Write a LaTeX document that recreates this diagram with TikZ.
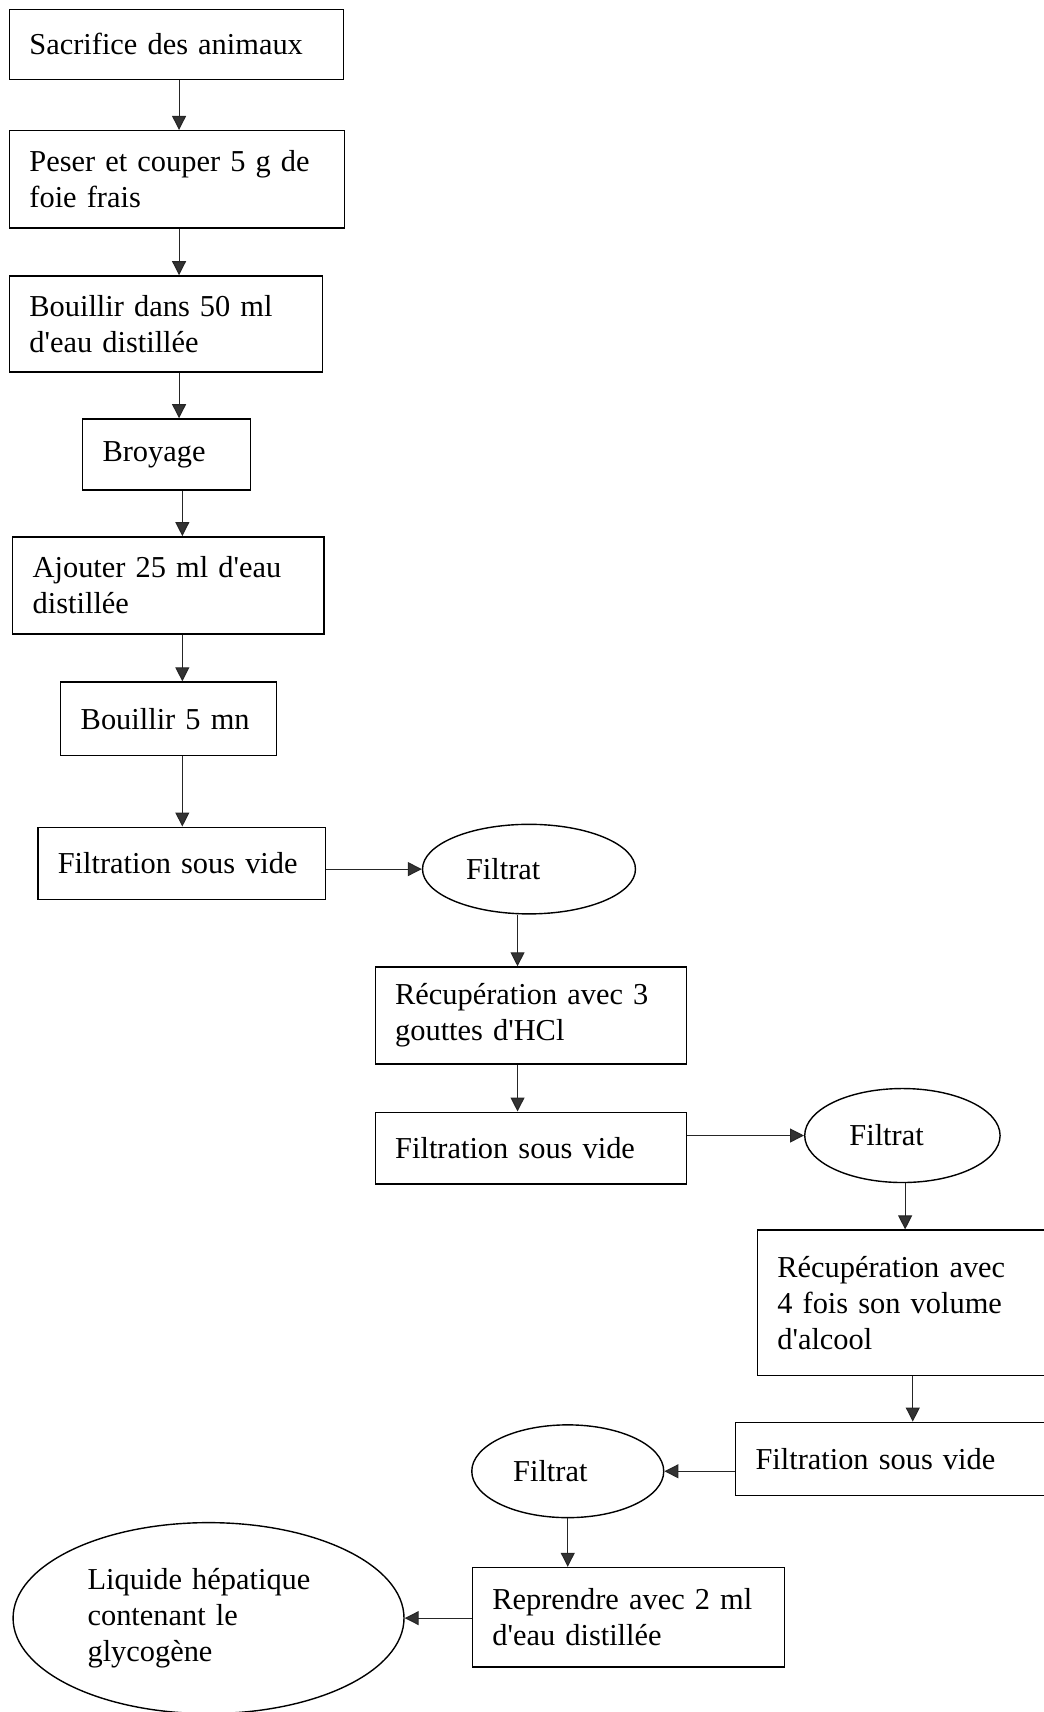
\documentclass[tikz,border=0pt]{standalone}
\usepackage{fontspec}
\setmainfont{Liberation Serif}[Ligatures=TeXOff]
\usepackage{tikz}
\usetikzlibrary{
	arrows.meta,									% 箭头样式
	shapes.geometric,								% 椭圆
}

\tikzset{
	etape/.style={draw, line width=0.7pt, anchor=north west, align=left,
		inner xsep=10pt, inner ysep=3pt, font=\fontsize{15.2}{18}\selectfont},
	filtrat/.style={draw, ellipse, line width=0.7pt, align=left, inner sep=2pt,
		font=\fontsize{15.2}{18}\selectfont},
	fleche/.style={line width=0.55pt, draw=black!85,
		-{Triangle[length=7pt,width=7pt,fill=black!80]}},
}

\begin{document}
\begin{tikzpicture}[x=0.546pt, y=-0.546pt]
		\useasboundingbox (0,0) rectangle (956,1568);
		% colonne de gauche
		\node[etape, text width=147pt, minimum height=35pt] (b1) at (8,8) {Sacrifice des animaux};
		\node[etape, text width=147.6pt, minimum height=48.6pt] (b2) at (8,119) {Peser et couper 5 g de\\foie frais};
		\node[etape, text width=136.7pt, minimum height=48pt] (b3) at (8,252) {Bouillir dans 50 ml\\d'eau distillée};
		\node[etape, text width=64pt, minimum height=35.5pt] (b4) at (75,383) {Broyage};
		\node[etape, text width=135.6pt, minimum height=48.6pt] (b5) at (11,491) {Ajouter 25 ml d'eau\\distillée};
		\node[etape, text width=88pt, minimum height=36.6pt] (b6) at (55,624) {Bouillir 5 mn};
		\node[etape, text width=124pt, minimum height=36pt] (b7) at (34,757) {Filtration sous vide};
		% premier filtrat
		\node[filtrat, text width=63pt, minimum width=106.5pt, minimum height=44.8pt] (f1) at (484.5,796) {Filtrat};
		\node[etape, text width=135.6pt, minimum height=48.6pt] (b9) at (343,885) {Récupération avec 3\\gouttes d'HCl};
		\node[etape, text width=135.6pt, minimum height=36pt] (b10) at (343,1018) {Filtration sous vide};
		% second filtrat
		\node[filtrat, text width=53pt, minimum width=97.7pt, minimum height=47pt] (f2) at (826.5,1040) {Filtrat};
		\node[etape, text width=123.6pt, minimum height=72.6pt] (b12) at (693,1126) {Récupération avec\\4 fois son volume\\d'alcool};
		\node[etape, text width=134.5pt, minimum height=36.6pt] (b13) at (673,1302) {Filtration sous vide};
		% troisieme filtrat
		\node[filtrat, text width=54.6pt, minimum width=96pt, minimum height=46.4pt] (f3) at (520,1347.5) {Filtrat};
		\node[etape, text width=136pt, minimum height=49.7pt] (b15) at (432,1435) {Reprendre avec 2 ml\\d'eau distillée};
		\node[filtrat, text width=121pt, minimum width=195.5pt, minimum height=95.5pt] (liq) at (191,1482) {Liquide hépatique\\contenant le\\glycogène};

		\coordinate (c1) at (164,0);
		\coordinate (c2) at (167,0);
		\coordinate (c3) at (474,0);
		\coordinate (c4) at (829,0);
		\coordinate (c5) at (836,0);

		\draw[fleche] (b1.south -| c1) -- (b2.north -| c1);
		\draw[fleche] (b2.south -| c1) -- (b3.north -| c1);
		\draw[fleche] (b3.south -| c1) -- (b4.north -| c1);
		\draw[fleche] (b4.south -| c2) -- (b5.north -| c2);
		\draw[fleche] (b5.south -| c2) -- (b6.north -| c2);
		\draw[fleche] (b6.south -| c2) -- (b7.north -| c2);
		\draw[fleche] (b7.east |- f1) -- (f1.west);
		\draw[fleche] (f1.south -| c3) -- (b9.north -| c3);
		\draw[fleche] (b9.south -| c3) -- (b10.north -| c3);
		\draw[fleche] (b10.east |- f2) -- (f2.west);
		\draw[fleche] (f2.south -| c4) -- (b12.north -| c4);
		\draw[fleche] (b12.south -| c5) -- (b13.north -| c5);
		\draw[fleche] (b13.west |- f3) -- (f3.east);
		\draw[fleche] (f3.south) -- (f3.south |- b15.north);
		\draw[fleche] (b15.west |- liq) -- (liq.east);
	\end{tikzpicture}
\end{document}
